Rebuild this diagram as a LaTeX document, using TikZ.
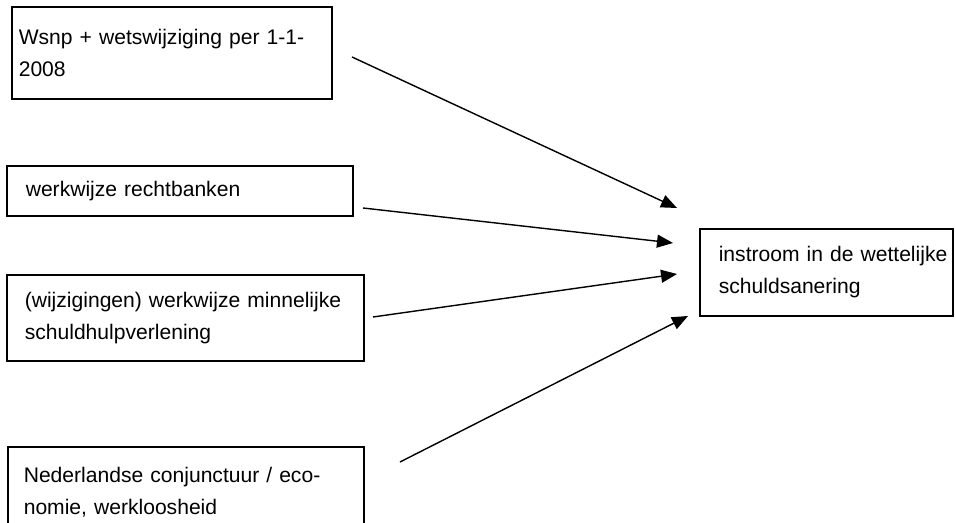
\documentclass[tikz,border=0pt]{standalone}
\usepackage{fontspec}
\setmainfont{Liberation Sans}
\usetikzlibrary{arrows.meta}

\begin{document}
\begin{tikzpicture}[
    factor/.style={draw,line width=0.9pt,anchor=north west,align=left,inner ysep=0pt,
        font=\fontsize{12pt}{18pt}\selectfont},
    arr/.style={line width=0.8pt,-{Triangle[length=0.32cm,width=0.26cm]}}]
            \useasboundingbox (0,0) rectangle (19.12,10.46);
            \clip (0,0) rectangle (19.12,10.46);
            \node[factor,text width=6.12cm,inner xsep=0.14cm,minimum height=1.84cm] (wsnp) at (0.22,10.34) {\mbox{Wsnp + wetswijziging per 1-1-}\\2008};
            \node[factor,text width=6.16cm,inner xsep=0.38cm,minimum height=1.0cm] (rechtbank) at (0.12,7.16) {werkwijze rechtbanken};
            \node[factor,text width=6.42cm,inner xsep=0.36cm,minimum height=1.72cm] (minnelijk) at (0.12,4.98) {\mbox{(wijzigingen) werkwijze minnelijke}\\schuldhulpverlening};
            \node[factor,text width=6.48cm,inner xsep=0.32cm,minimum height=1.82cm] (conjunctuur) at (0.14,1.54) {\mbox{Nederlandse conjunctuur / eco-}\\nomie, werkloosheid};
            \node[factor,text width=4.30cm,inner xsep=0.38cm,minimum height=1.74cm] (instroom) at (13.98,5.90) {\mbox{instroom in de wettelijke}\\schuldsanering};
            % loose arrow ends
            \coordinate (s1) at (7.04,9.32);
            \coordinate (t1) at (13.54,6.30);
            \coordinate (s2) at (7.26,6.30);
            \coordinate (t2) at (13.46,5.60);
            \coordinate (s3) at (7.46,4.12);
            \coordinate (t3) at (13.54,4.98);
            \coordinate (s4) at (8.00,1.22);
            \coordinate (t4) at (13.76,4.14);
            \draw[arr] (s1)--(t1);
            \draw[arr] (s2)--(t2);
            \draw[arr] (s3)--(t3);
            \draw[arr] (s4)--(t4);
        \end{tikzpicture}
\end{document}
